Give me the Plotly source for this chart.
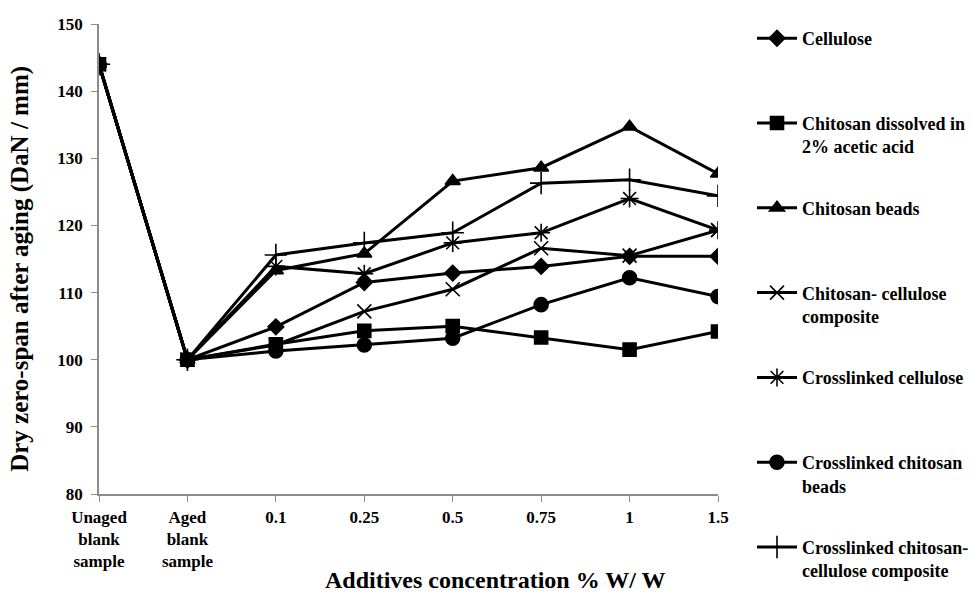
import plotly.graph_objects as go

categories = ["Unaged<br>blank<br>sample", "Aged<br>blank<br>sample", "0.1", "0.25", "0.5", "0.75", "1", "1.5"]
series_names = [
    "Cellulose<br>&nbsp;",
    "Chitosan dissolved in<br>2% acetic acid",
    "Chitosan beads<br>&nbsp;",
    "Chitosan- cellulose<br>composite",
    "Crosslinked cellulose<br>&nbsp;",
    "Crosslinked chitosan<br>beads",
    "Crosslinked chitosan-<br>cellulose composite",
]
cellulose = [144, 100, 104.9, 111.5, 112.9, 113.9, 115.4, 115.4]
chitosan_acetic = [144, 100, 102.3, 104.3, 105.0, 103.3, 101.5, 104.2]
chitosan_beads = [144, 100, 113.3, 115.8, 126.6, 128.6, 134.7, 127.7]
chitosan_cell_comp = [144, 100, 102.2, 107.2, 110.5, 116.6, 115.5, 119.3]
crosslinked_cell = [144, 100, 113.9, 112.8, 117.4, 118.9, 124.0, 119.3]
crosslinked_beads = [144, 100, 101.3, 102.2, 103.2, 108.2, 112.2, 109.4]
crosslinked_comp = [144, 100, 115.6, 117.4, 118.9, 126.3, 126.8, 124.4]

y_title = "Dry zero-span after aging (DaN / mm)"
x_title = "Additives concentration % W/ W"

values = [cellulose, chitosan_acetic, chitosan_beads, chitosan_cell_comp,
          crosslinked_cell, crosslinked_beads, crosslinked_comp]
symbols = ["diamond", "square", "triangle-up", "x-thin-open", "asterisk-open", "circle", "cross-thin-open"]
sizes = [12, 13, 13, 14, 15, 14, 16]

FONT = "Liberation Serif"
fig = go.Figure()
x_idx = list(range(len(categories)))
for i, (name, vals, sym, sz) in enumerate(zip(series_names, values, symbols, sizes)):
    fig.add_trace(go.Scatter(
        x=x_idx, y=vals, name=name, mode="lines+markers", legendgroup=f"g{i}",
        line=dict(color="black", width=3),
        marker=dict(symbol=sym, size=sz, color="black",
                    line=dict(color="black", width=1.6)),
    ))

fig.update_layout(
    width=972, height=595,
    margin=dict(l=99, r=254, t=24, b=101),
    paper_bgcolor="white", plot_bgcolor="white",
    font=dict(family=FONT, size=17, color="black", weight="bold"),
    showlegend=True,
    legend=dict(
        xref="container", yref="container",
        x=752 / 972, y=1 - 20 / 595, xanchor="left", yanchor="top",
        font=dict(family=FONT, size=18, color="black", weight="bold"),
        tracegroupgap=35, valign="top", itemwidth=40, maxheight=590,
        bgcolor="rgba(0,0,0,0)",
    ),
    xaxis=dict(
        tickmode="array", tickvals=x_idx, ticktext=categories,
        range=[0, 7], showgrid=False, zeroline=False, automargin=False,
        showline=True, linecolor="#8c8c8c", linewidth=1.5,
        ticks="outside", ticklen=6, tickcolor="#8c8c8c", ticklabelstandoff=1,
        tickfont=dict(family=FONT, size=17, weight="bold"),
    ),
    yaxis=dict(
        range=[80, 150], dtick=10, showgrid=False, zeroline=False, automargin=False,
        showline=True, linecolor="#8c8c8c", linewidth=1.5,
        ticks="outside", ticklen=6, tickcolor="#8c8c8c", ticklabelstandoff=5,
        tickfont=dict(family=FONT, size=17, weight="bold"),
    ),
    annotations=[
        dict(text=y_title, xref="paper", yref="paper", x=-79 / 619, y=0.479,
             xanchor="center", yanchor="middle", textangle=-90, showarrow=False,
             font=dict(family=FONT, size=25, weight="bold")),
        dict(text=x_title, xref="paper", yref="paper", x=(495 - 99) / 619, y=-86 / 470,
             xanchor="center", yanchor="middle", showarrow=False,
             font=dict(family=FONT, size=24, weight="bold")),
    ],
)

fig.write_html("out.html", config={"displayModeBar": False},
               post_script="document.body.style.margin='0';")
